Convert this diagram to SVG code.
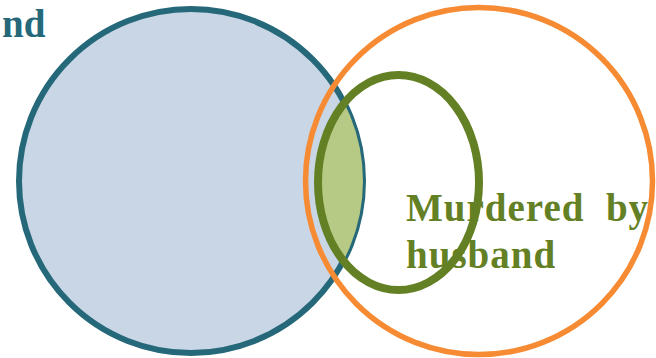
<svg xmlns="http://www.w3.org/2000/svg" width="656" height="358" viewBox="0 0 656 358">
<defs>
<style>
.lbl{font-family:"Liberation Serif","Times New Roman",serif;font-weight:bold;font-size:39px}
</style>
<clipPath id="blueClip"><circle cx="191" cy="181" r="172"/></clipPath>
</defs>
<rect width="656" height="358" fill="#ffffff"/>
<g id="married">
<circle cx="191" cy="181" r="172" fill="#C9D6E5" stroke="#24687A" stroke-width="6"/>
<text class="lbl" x="2" y="37" fill="#24687A">nd</text>
</g>
<g id="overlap">
<ellipse cx="398.5" cy="182.5" rx="80.5" ry="107.5" fill="#B6CA86" clip-path="url(#blueClip)"/>
</g>
<g id="murdered">
<circle cx="479" cy="181" r="173.5" fill="none" stroke="#F68B34" stroke-width="5.5"/>
</g>
<g id="husband">
<ellipse cx="398.5" cy="182.5" rx="80.5" ry="107.5" fill="none" stroke="#648024" stroke-width="8"/>
<text class="lbl" x="406" y="221" fill="#648024" letter-spacing="1" xml:space="preserve">Murdered  by</text>
<text class="lbl" x="406" y="268" fill="#648024" letter-spacing="1">husband</text>
</g>
</svg>
